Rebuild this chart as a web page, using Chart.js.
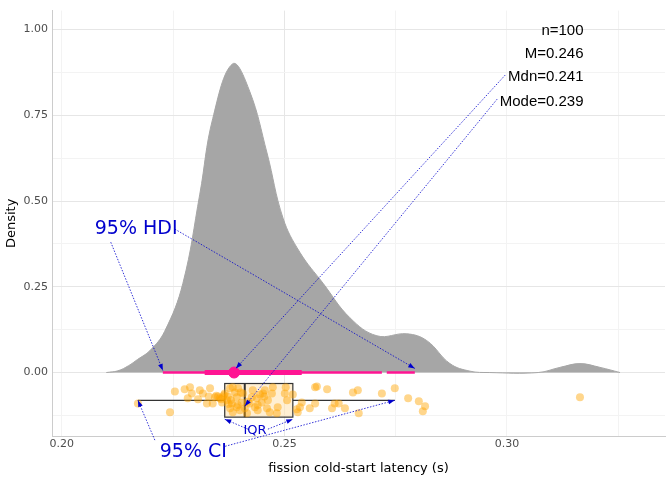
<!DOCTYPE html>
<html lang="en">
<head>
<meta charset="UTF-8">
<title>fission cold-start latency</title>
<style>
  body { margin: 0; background: #fff; }
  #wrap { width: 672px; height: 480px; }
</style>
<script src="https://cdn.jsdelivr.net/npm/chart.js"></script>
</head>
<body>
<div id="wrap"><canvas id="chart" width="672" height="480"></canvas></div>
<script>
// density curve
const densX = [0.2100, 0.2126, 0.2150, 0.2170, 0.2198, 0.2231, 0.2272, 0.2310, 0.2339, 0.2384, 0.2422, 0.2461, 0.2497, 0.2535, 0.2587, 0.2647, 0.2708, 0.2775, 0.2820, 0.2872, 0.2917, 0.2960,
               0.3070, 0.3119, 0.3164, 0.3209, 0.3254];
const densY = [0, 0.005, 0.020, 0.038, 0.064, 0.120, 0.260, 0.520, 0.740, 0.900, 0.820, 0.640, 0.450, 0.350, 0.260, 0.160, 0.107, 0.113, 0.093, 0.026, 0.004, 0,
               0, 0.015, 0.026, 0.015, 0];

// HDI segments and mode
const hdiThin = [[0.2227, 0.2719], [0.2730, 0.2793]];
const hdiThick = [0.2321, 0.2539];
const modeVal = 0.2387;

// boxplot: whiskerLo, q1, median, q3, whiskerHi, centre y, half height
const boxStats = [0.2171, 0.2366, 0.2411, 0.2519, 0.2748];
const boxY = -0.081, boxHalf = 0.049;

// jittered observations
const obsX = [0.2171, 0.2243, 0.2254, 0.2276, 0.2288, 0.2292, 0.2283, 0.2306, 0.2310, 0.2317, 0.2333, 0.2330, 0.2326, 0.2339, 0.2344, 0.2351, 0.2355, 0.2360, 0.2362, 0.2366,
  0.2371, 0.2373, 0.2378, 0.2382, 0.2384, 0.2389, 0.2393, 0.2393, 0.2400, 0.2404, 0.2407, 0.2411, 0.2416, 0.2396, 0.2378, 0.2384, 0.2422, 0.2427, 0.2429, 0.2434,
  0.2438, 0.2440, 0.2445, 0.2449, 0.2452, 0.2456, 0.2461, 0.2463, 0.2467, 0.2472, 0.2474, 0.2483, 0.2485, 0.2501, 0.2506, 0.2519, 0.2503, 0.2528, 0.2530, 0.2539,
  0.2535, 0.2557, 0.2569, 0.2573, 0.2569, 0.2596, 0.2607, 0.2613, 0.2622, 0.2636, 0.2654, 0.2665, 0.2667, 0.2719, 0.2748, 0.2778, 0.2802, 0.2811, 0.2816, 0.3164,
  0.2364, 0.2380, 0.2395, 0.2402, 0.2418, 0.2358, 0.2375, 0.2440, 0.2455, 0.2347];
const obsY = [-0.090, -0.116, -0.055, -0.049, -0.043, -0.061, -0.075, -0.078, -0.052, -0.061, -0.046, -0.070, -0.090, -0.090, -0.072, -0.070, -0.075, -0.087, -0.072, -0.061,
  -0.081, -0.070, -0.046, -0.090, -0.043, -0.058, -0.072, -0.101, -0.110, -0.087, -0.061, -0.104, -0.119, -0.046, -0.104, -0.116, -0.090, -0.072, -0.052, -0.101,
  -0.075, -0.095, -0.064, -0.087, -0.061, -0.052, -0.104, -0.081, -0.116, -0.061, -0.043, -0.119, -0.101, -0.061, -0.081, -0.064, -0.043, -0.107, -0.116, -0.087,
  -0.101, -0.104, -0.043, -0.041, -0.090, -0.049, -0.104, -0.090, -0.090, -0.104, -0.058, -0.052, -0.119, -0.061, -0.046, -0.075, -0.084, -0.113, -0.098, -0.072,
  -0.066, -0.080, -0.095, -0.058, -0.085, -0.078, -0.092, -0.110, -0.070, -0.068];

// stats text
const statLines = ['n=100', 'M=0.246', 'Mdn=0.241', 'Mode=0.239'];
const statY = [0.997, 0.930, 0.861, 0.788];

// arrows [x0, y0, x1, y1] in data units
const arrows = [
  [0.2996, 0.867, 0.2391, 0.012],
  [0.2978, 0.797, 0.2411, -0.098],
  [0.2110, 0.380, 0.2227, 0.006],
  [0.2254, 0.418, 0.2793, 0.012],
  [0.2209, -0.197, 0.2171, -0.081],
  [0.2367, -0.215, 0.2748, -0.081],
  [0.2418, -0.165, 0.2366, -0.136],
  [0.2463, -0.165, 0.2519, -0.136]
];

const xy = (xs, ys) => xs.map((x, i) => ({x: x, y: ys[i]}));
const PINK = '#FF1493';
const BLUE = '#0000CD';

const overlay = {
  id: 'overlay',
  beforeDatasetsDraw(chart) {
    const c = chart.ctx, sx = chart.scales.x, sy = chart.scales.y;
    c.save();
    // boxplot
    const [wl, q1, md, q3, wh] = boxStats.map(v => sx.getPixelForValue(v));
    const yc = sy.getPixelForValue(boxY);
    const yt = sy.getPixelForValue(boxY + boxHalf), yb = sy.getPixelForValue(boxY - boxHalf);
    c.strokeStyle = '#333'; c.lineWidth = 1.2;
    c.beginPath(); c.moveTo(wl, yc); c.lineTo(q1, yc); c.moveTo(q3, yc); c.lineTo(wh, yc); c.stroke();
    c.fillStyle = 'rgba(255,228,181,0.6)';
    c.fillRect(q1, yt, q3 - q1, yb - yt);
    c.strokeRect(q1, yt, q3 - q1, yb - yt);
    c.lineWidth = 2;
    c.beginPath(); c.moveTo(md, yt); c.lineTo(md, yb); c.stroke();
    c.restore();
  },
  afterDraw(chart) {
    const c = chart.ctx, sx = chart.scales.x, sy = chart.scales.y;
    c.save();
    c.strokeStyle = BLUE; c.fillStyle = BLUE; c.lineWidth = 0.8;
    arrows.forEach(a => {
      const x0 = sx.getPixelForValue(a[0]), y0 = sy.getPixelForValue(a[1]);
      const x1 = sx.getPixelForValue(a[2]), y1 = sy.getPixelForValue(a[3]);
      c.setLineDash([1.5, 1.5]);
      c.beginPath(); c.moveTo(x0, y0); c.lineTo(x1, y1); c.stroke();
      c.setLineDash([]);
      const ang = Math.atan2(y1 - y0, x1 - x0), L = 7;
      c.beginPath(); c.moveTo(x1, y1);
      c.lineTo(x1 - L * Math.cos(ang - 0.35), y1 - L * Math.sin(ang - 0.35));
      c.lineTo(x1 - L * Math.cos(ang + 0.35), y1 - L * Math.sin(ang + 0.35));
      c.closePath(); c.fill();
    });
    c.textBaseline = 'middle';
    c.font = '19px "DejaVu Sans"'; c.textAlign = 'left';
    c.fillText('95% HDI', sx.getPixelForValue(0.2074), sy.getPixelForValue(0.417));
    c.fillText('95% CI', sx.getPixelForValue(0.2220), sy.getPixelForValue(-0.232));
    c.font = '13px "DejaVu Sans"';
    c.fillText('IQR', sx.getPixelForValue(0.2408), sy.getPixelForValue(-0.168));
    c.fillStyle = '#000'; c.font = '15px "Liberation Sans"'; c.textAlign = 'right';
    statLines.forEach((t, i) => c.fillText(t, sx.getPixelForValue(0.3172), sy.getPixelForValue(statY[i])));
    c.restore();
  }
};

const isMajor = v => Math.abs(v * 4 - Math.round(v * 4)) < 1e-6;
const gridColor = ctx => isMajor(ctx.tick.value) ? '#E6E6E6' : '#F3F3F3';

new Chart(document.getElementById('chart'), {
  type: 'scatter',
  data: {
    datasets: [
      { data: xy(densX, densY), showLine: true, fill: 'origin', backgroundColor: '#A6A6A6', borderColor: '#A6A6A6', borderWidth: 1, tension: 0.4, pointRadius: 0, order: 5 },
      { data: [{x: hdiThin[0][0], y: 0}, {x: hdiThin[0][1], y: 0}], showLine: true, borderColor: PINK, borderWidth: 2.5, pointRadius: 0, order: 4 },
      { data: [{x: hdiThin[1][0], y: 0}, {x: hdiThin[1][1], y: 0}], showLine: true, borderColor: PINK, borderWidth: 2.5, pointRadius: 0, order: 4 },
      { data: [{x: hdiThick[0], y: 0}, {x: hdiThick[1], y: 0}], showLine: true, borderColor: PINK, borderWidth: 5, pointRadius: 0, order: 3 },
      { data: [{x: modeVal, y: 0}], pointRadius: 5.5, backgroundColor: PINK, borderColor: PINK, order: 2 },
      { data: xy(obsX, obsY), pointRadius: 4, backgroundColor: 'rgba(255,165,0,0.45)', borderColor: 'rgba(255,165,0,0.45)', borderWidth: 0, order: 1 }
    ]
  },
  options: {
    responsive: false, animation: false,
    layout: { padding: { top: 8, right: 7, left: 0, bottom: 0 } },
    plugins: { legend: { display: false }, tooltip: { enabled: false } },
    scales: {
      x: {
        type: 'linear', min: 0.1978, max: 0.3355,
        afterBuildTicks: s => { s.ticks = [0.2, 0.225, 0.25, 0.275, 0.3, 0.325].map(v => ({value: v})); },
        afterFit: s => { s.height = 44; },
        ticks: { autoSkip: false, maxRotation: 0, color: '#4D4D4D', font: { size: 11, family: 'DejaVu Sans' }, padding: 2,
          callback: v => [0.2, 0.25, 0.3].some(t => Math.abs(t - v) < 1e-6) ? v.toFixed(2) : '' },
        grid: { color: gridColor, drawTicks: false, lineWidth: 1 },
        border: { display: true, color: '#CCCCCC' },
        title: { display: true, text: 'fission cold-start latency (s)', color: '#000', font: { size: 13, family: 'DejaVu Sans' }, padding: { top: 2 } }
      },
      y: {
        min: -0.185, max: 1.055,
        afterBuildTicks: s => { s.ticks = [-0.125, 0, 0.125, 0.25, 0.375, 0.5, 0.625, 0.75, 0.875, 1.0].map(v => ({value: v})); },
        afterFit: s => { s.width = 52; },
        ticks: { autoSkip: false, color: '#4D4D4D', font: { size: 11, family: 'DejaVu Sans' }, padding: 4,
          callback: v => isMajor(v) ? v.toFixed(2) : '' },
        grid: { color: gridColor, drawTicks: false },
        border: { display: true, color: '#CCCCCC' },
        title: { display: true, text: 'Density', color: '#000', font: { size: 13, family: 'DejaVu Sans' }, padding: { bottom: 2 } }
      }
    }
  },
  plugins: [overlay]
});
</script>
</body>
</html>
